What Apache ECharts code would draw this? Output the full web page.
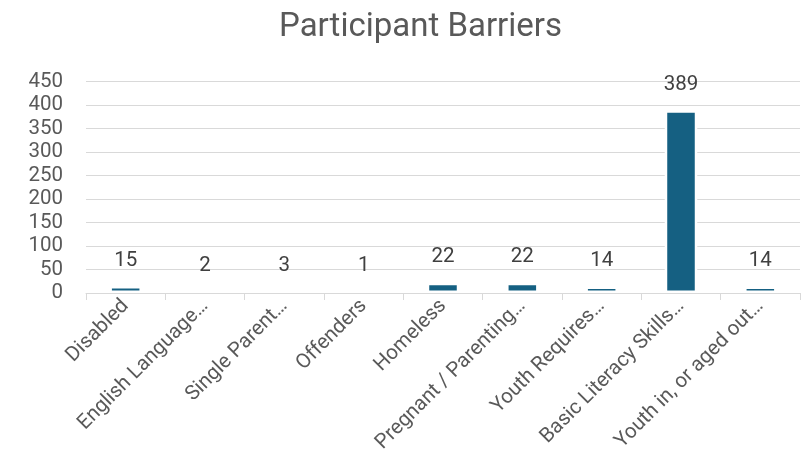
<!DOCTYPE html>
<html>
<head>
<meta charset="utf-8">
<script src="https://cdn.jsdelivr.net/npm/echarts@6/dist/echarts.min.js"></script>
<style>
  html, body { margin: 0; padding: 0; background: #fff; }
  #chart { width: 810px; height: 462px; }
</style>
</head>
<body>
<div id="chart"></div>
<script>
// Barrier categories as they appear on the axis
const categories = [
  'Disabled',
  'English Language…',
  'Single Parent…',
  'Offenders',
  'Homeless',
  'Pregnant / Parenting…',
  'Youth Requires…',
  'Basic Literacy Skills…',
  'Youth in, or aged out…'
];
// Participant counts per barrier
const counts = [15, 2, 3, 1, 22, 22, 14, 389, 14];
// Value axis range
const yMin = 0;
const yMax = 450;
const yStep = 50;

const FONT = 'Roboto, "Liberation Sans", sans-serif';
const chart = echarts.init(document.getElementById('chart'), null, { renderer: 'canvas' });
chart.setOption({
  animation: false,
  title: {
    text: 'Participant Barriers',
    left: 274,
    top: 6,
    textStyle: { fontFamily: FONT, fontSize: 33, fontWeight: 'normal', color: '#595959' }
  },
  grid: { left: 86, right: 10, top: 81.5, bottom: 169, containLabel: false },
  xAxis: {
    type: 'category',
    data: categories,
    boundaryGap: true,
    z: 10,
    axisLine: { lineStyle: { color: '#d9d9d9', width: 1 } },
    axisTick: { show: true, length: 7, lineStyle: { color: '#d9d9d9' } },
    axisLabel: {
      interval: 0,
      rotate: 45,
      margin: 10,
      fontFamily: FONT,
      fontSize: 20.5,
      color: '#595959'
    }
  },
  yAxis: {
    type: 'value',
    min: yMin,
    max: yMax,
    interval: yStep,
    axisLine: { show: false },
    axisTick: { show: false },
    splitLine: { lineStyle: { color: '#d9d9d9', width: 1 } },
    axisLabel: { fontFamily: FONT, fontSize: 20.5, color: '#595959', margin: 23 }
  },
  series: [{
    type: 'bar',
    data: counts,
    barWidth: '41%',
    itemStyle: { color: '#156082', borderColor: '#ffffff', borderWidth: 2.5 },
    label: {
      show: true,
      position: 'top',
      distance: 15,
      fontFamily: FONT,
      fontSize: 20.5,
      color: '#404040'
    }
  }]
});
</script>
</body>
</html>
